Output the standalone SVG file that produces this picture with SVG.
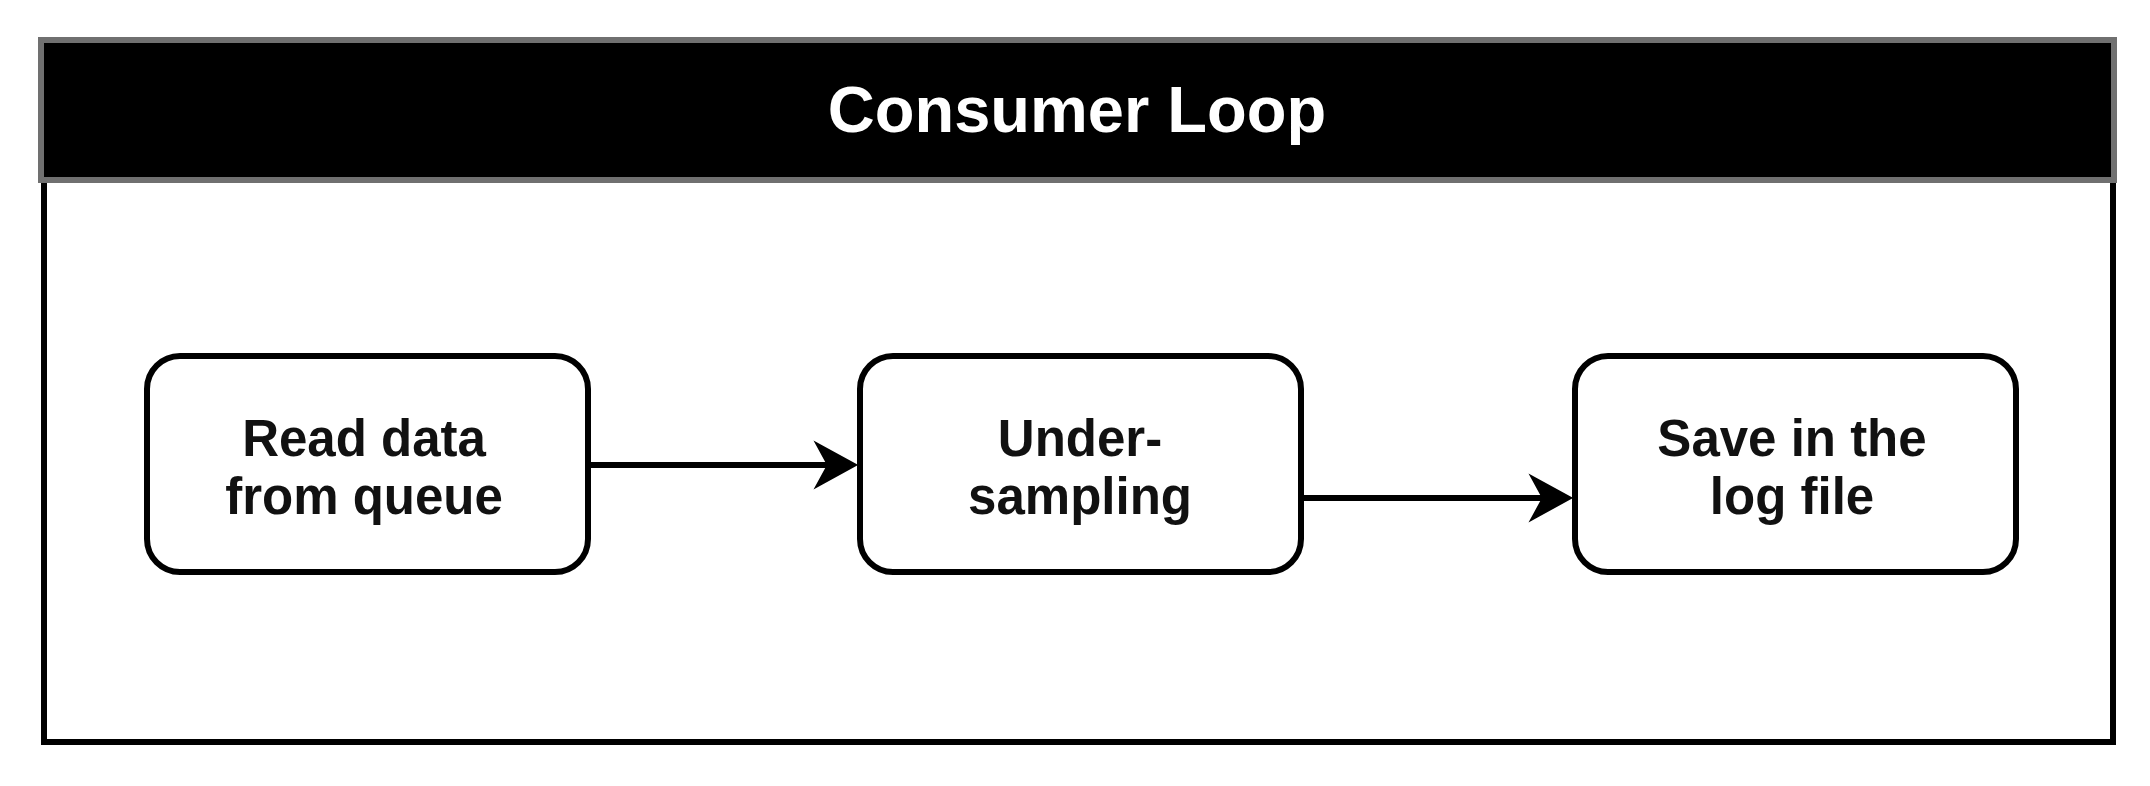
<svg xmlns="http://www.w3.org/2000/svg" width="2150" height="786" viewBox="0 0 2150 786">
  <style>
    .node { fill: #ffffff; stroke: #000000; stroke-width: 6; }
    .label { font-family: "Liberation Sans", Arial, sans-serif; font-weight: bold; font-size: 51px; fill: #111111; text-anchor: middle; }
    .title { font-family: "Liberation Sans", Arial, sans-serif; font-weight: bold; font-size: 65px; fill: #ffffff; text-anchor: middle; }
    .edge { stroke: #000000; stroke-width: 6; fill: none; }
    .head { fill: #000000; stroke: #000000; stroke-width: 2; stroke-linejoin: miter; }
  </style>
  <rect x="0" y="0" width="2150" height="786" fill="#ffffff"/>
  <g id="container">
    <rect x="44" y="180" width="2069" height="562" fill="#ffffff" stroke="#000000" stroke-width="6"/>
    <rect x="41" y="40" width="2073" height="140" fill="#000000" stroke="#707070" stroke-width="6"/>
    <text class="title" x="1077" y="132">Consumer Loop</text>
  </g>
  <g id="node-read">
    <rect class="node" x="147" y="356" width="441" height="216" rx="33" ry="33"/>
    <text class="label" x="364" y="456">Read data</text>
    <text class="label" x="364" y="514">from queue</text>
  </g>
  <g id="node-undersampling">
    <rect class="node" x="860" y="356" width="441" height="216" rx="33" ry="33"/>
    <text class="label" x="1080" y="456">Under-</text>
    <text class="label" x="1080" y="514">sampling</text>
  </g>
  <g id="node-save">
    <rect class="node" x="1575" y="356" width="441" height="216" rx="33" ry="33"/>
    <text class="label" x="1792" y="456">Save in the</text>
    <text class="label" x="1792" y="514">log file</text>
  </g>
  <g id="connectors">
    <line class="edge" x1="589" y1="465" x2="830" y2="465"/>
    <polygon class="head" points="856,465 816,443 828,465 816,487"/>
    <line class="edge" x1="1302" y1="498" x2="1545" y2="498"/>
    <polygon class="head" points="1571,498 1531,476 1543,498 1531,520"/>
  </g>
</svg>
